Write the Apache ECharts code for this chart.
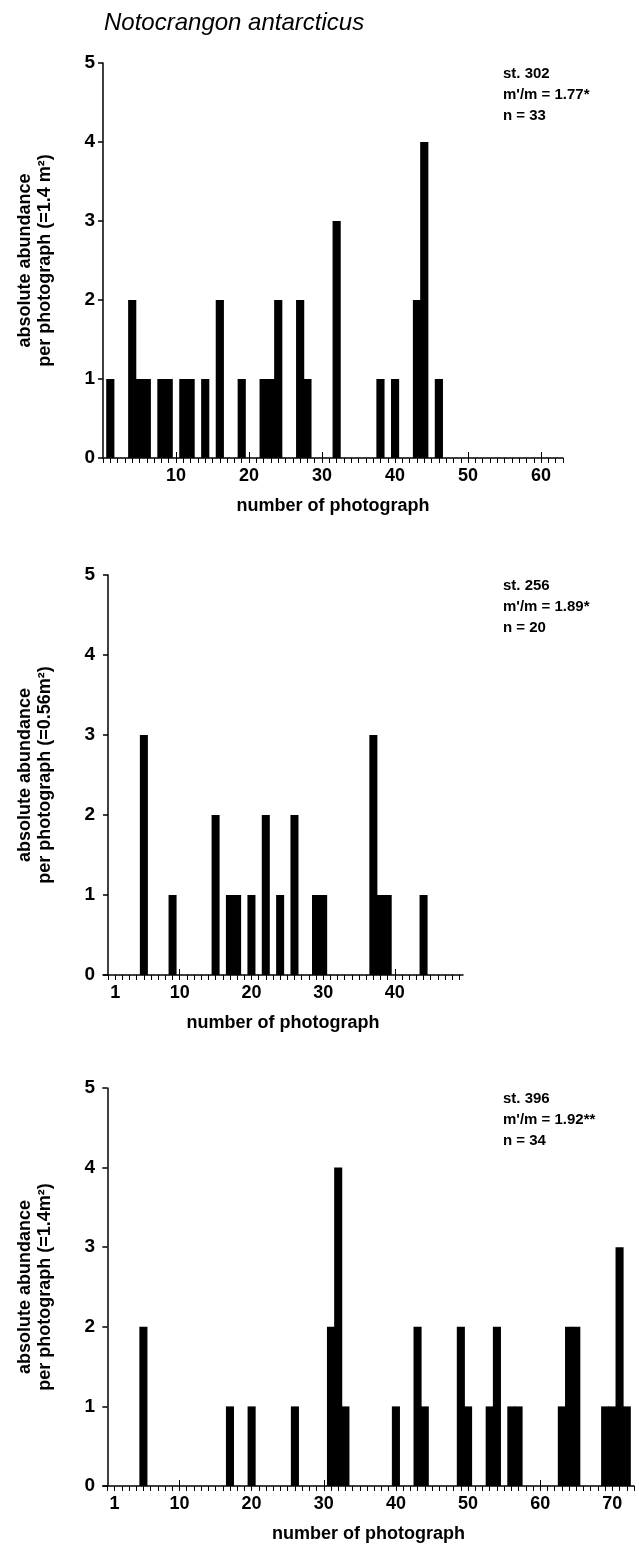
<!DOCTYPE html>
<html>
<head>
<meta charset="utf-8">
<script src="https://cdn.jsdelivr.net/npm/echarts@6/dist/echarts.min.js"></script>
<style>
  html, body { margin: 0; padding: 0; background: #fff; }
  #main { width: 639px; height: 1556px; }
</style>
</head>
<body>
<div id="main"></div>
<script>
// st. 302
const photos1 = [1, 4, 5, 6, 8, 9, 11, 12, 14, 16, 19, 22, 23, 24, 27, 28, 32, 38, 40, 43, 44, 46];
const counts1 = [1, 2, 1, 1, 1, 1, 1, 1, 1, 2, 1, 1, 1, 2, 2, 1, 3, 1, 1, 2, 4, 1];
const xLabels1 = [10, 20, 30, 40, 50, 60];

// st. 256
const photos2 = [5, 9, 15, 17, 18, 20, 22, 24, 26, 29, 30, 37, 38, 39, 44];
const counts2 = [3, 1, 2, 1, 1, 1, 2, 1, 2, 1, 1, 3, 1, 1, 1];
const xLabels2 = [1, 10, 20, 30, 40];

// st. 396
const photos3 = [5, 17, 20, 26, 31, 32, 33, 40, 43, 44, 49, 50, 53, 54, 56, 57, 63, 64, 65, 69, 70, 71, 72];
const counts3 = [2, 1, 1, 1, 2, 4, 1, 1, 2, 1, 2, 1, 1, 2, 1, 1, 1, 2, 2, 1, 1, 3, 1];
const xLabels3 = [1, 10, 20, 30, 40, 50, 60, 70];

const yTicks = [0, 1, 2, 3, 4, 5];

const FONT = 'Liberation Sans';

function range(a, b) {
  let r = [];
  for (let i = a; i <= b; i++) r.push(i);
  return r;
}

const panels = [
  { top: 63, height: 395, left: 103, width: 460, min: 0, max: 63,
    photos: photos1, counts: counts1, labels: xLabels1, majors: [10, 20, 30, 40, 50, 60],
    yName: 'absolute abundance\nper photograph (=1.4 m²)',
    note: ['st. 302', 'm\'/m = 1.77*', 'n = 33'] },
  { top: 575, height: 400, left: 103, width: 360, min: -0.7, max: 49.5,
    photos: photos2, counts: counts2, labels: xLabels2, majors: [10, 20, 30, 40],
    yName: 'absolute abundance\nper photograph (=0.56m²)',
    note: ['st. 256', 'm\'/m = 1.89*', 'n = 20'] },
  { top: 1088, height: 398, left: 103, width: 531, min: -0.6, max: 73,
    photos: photos3, counts: counts3, labels: xLabels3, majors: [10, 20, 30, 40, 50, 60, 70],
    yName: 'absolute abundance\nper photograph (=1.4m²)',
    note: ['st. 396', 'm\'/m = 1.92**', 'n = 34'] }
];

function renderBar(params, api) {
  let x = api.value(0), y = api.value(1);
  let p0 = api.coord([x - 0.56, y]);
  let p1 = api.coord([x + 0.56, 0]);
  return {
    type: 'rect',
    shape: { x: p0[0], y: p0[1], width: p1[0] - p0[0], height: p1[1] - p0[1] },
    style: { fill: '#000' }
  };
}

let grids = [], xAxes = [], yAxes = [], series = [], graphics = [];

graphics.push({
  type: 'text', left: 104, top: 11,
  style: { text: 'Notocrangon antarcticus', fontFamily: FONT, fontStyle: 'italic', fontSize: 24, fill: '#000' }
});

panels.forEach((p, i) => {
  grids.push({ left: p.left, top: p.top, width: p.width, height: p.height, containLabel: false });

  // main axis: small ticks downward, labels
  xAxes.push({
    type: 'value', gridIndex: i, position: 'bottom', min: p.min, max: p.max,
    name: 'number of photograph', nameLocation: 'middle', nameGap: 39,
    nameTextStyle: { fontFamily: FONT, fontWeight: 'bold', fontSize: 18, color: '#000' },
    axisLine: { show: true, lineStyle: { color: '#000', width: 1.5 } },
    axisTick: { show: true, customValues: range(Math.ceil(p.min), Math.floor(p.max)), length: 5, lineStyle: { color: '#000', width: 1 } },
    axisLabel: { show: true, customValues: p.labels, margin: 9, fontFamily: FONT, fontWeight: 'bold', fontSize: 18, color: '#000' },
    splitLine: { show: false }
  });
  // second axis on the same baseline: longer ticks pointing up at the tens
  xAxes.push({
    type: 'value', gridIndex: i, position: 'bottom', offset: 0, min: p.min, max: p.max,
    axisLine: { show: false },
    axisTick: { show: true, inside: true, customValues: p.majors, length: 6, lineStyle: { color: '#000', width: 1 } },
    axisLabel: { show: false },
    splitLine: { show: false }
  });

  yAxes.push({
    type: 'value', gridIndex: i, min: 0, max: 5, interval: 1,
    name: p.yName, nameLocation: 'middle', nameGap: 48, nameRotate: 90,
    nameTextStyle: { fontFamily: FONT, fontWeight: 'bold', fontSize: 18, color: '#000', lineHeight: 20, align: 'center' },
    axisLine: { show: true, lineStyle: { color: '#000', width: 1.5 } },
    axisTick: { show: true, length: 5, lineStyle: { color: '#000', width: 1.5 } },
    axisLabel: { margin: 8, fontFamily: FONT, fontWeight: 'bold', fontSize: 19, color: '#000',
      customValues: yTicks },
    splitLine: { show: false }
  });

  series.push({
    type: 'custom', xAxisIndex: i * 2, yAxisIndex: i,
    renderItem: renderBar,
    data: p.photos.map((ph, k) => [ph, p.counts[k]]),
    silent: true
  });

  graphics.push({
    type: 'text', left: 503, top: p.top,
    style: { text: p.note.join('\n'), fontFamily: FONT, fontWeight: 'bold', fontSize: 15, lineHeight: 21, fill: '#000' }
  });
});

let chart = echarts.init(document.getElementById('main'), null, { renderer: 'canvas' });
chart.setOption({
  animation: false,
  backgroundColor: '#fff',
  grid: grids,
  xAxis: xAxes,
  yAxis: yAxes,
  series: series,
  graphic: graphics
});
</script>
</body>
</html>
